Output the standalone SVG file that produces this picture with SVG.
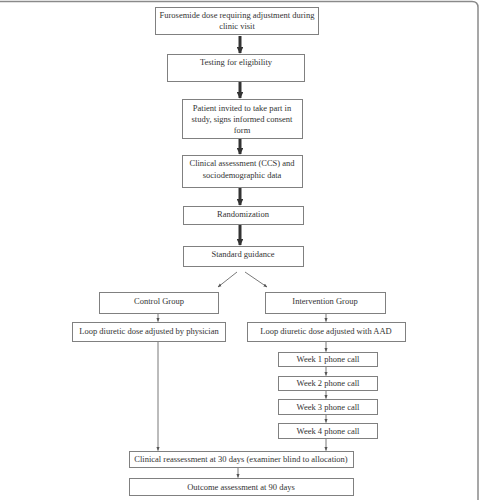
<svg xmlns="http://www.w3.org/2000/svg" width="480" height="500" viewBox="0 0 480 500">
<style>
.b{fill:#fff;stroke:#808080;stroke-width:1}
.t{font-family:"Liberation Serif","Times New Roman",serif;font-size:8.5px;fill:#333;text-anchor:middle}
.thick{stroke:#333;stroke-width:3;fill:none}
.thin{stroke:#555;stroke-width:0.8;fill:none}
</style>
<defs>
<marker id="big" viewBox="0 0 10 10" refX="9" refY="5" markerWidth="2.2" markerHeight="2.2" orient="auto" markerUnits="strokeWidth"><path d="M0,0L10,5L0,10z" fill="#333"/></marker>
<marker id="sm" viewBox="0 0 10 10" refX="9" refY="5" markerWidth="5" markerHeight="5" orient="auto" markerUnits="strokeWidth"><path d="M0,1L10,5L0,9z" fill="#555"/></marker>
</defs>
<rect width="480" height="500" fill="#fff"/>
<path d="M0,1.5H472Q478,1.5 478,7.5V500" fill="none" stroke="#8a8a8a" stroke-width="1.5"/>
<g id="connectors">
<line class="thick" x1="240" y1="36" x2="240" y2="53" marker-end="url(#big)"/>
<line class="thick" x1="240" y1="82" x2="240" y2="98" marker-end="url(#big)"/>
<line class="thick" x1="240" y1="139" x2="240" y2="154" marker-end="url(#big)"/>
<line class="thick" x1="240" y1="188" x2="240" y2="205" marker-end="url(#big)"/>
<line class="thick" x1="240" y1="225" x2="240" y2="245" marker-end="url(#big)"/>
<line class="thin" x1="237" y1="272" x2="218" y2="287" marker-end="url(#sm)"/>
<line class="thin" x1="245" y1="272" x2="267" y2="287" marker-end="url(#sm)"/>
<line class="thin" x1="158" y1="313" x2="158" y2="321.5" marker-end="url(#sm)"/>
<line class="thin" x1="326" y1="313" x2="326" y2="321.5" marker-end="url(#sm)"/>
<line class="thin" x1="326" y1="342" x2="326" y2="351.5" marker-end="url(#sm)"/>
<line class="thin" x1="326" y1="366" x2="326" y2="375.5" marker-end="url(#sm)"/>
<line class="thin" x1="326" y1="390" x2="326" y2="398.5" marker-end="url(#sm)"/>
<line class="thin" x1="326" y1="414" x2="326" y2="422.5" marker-end="url(#sm)"/>
<line class="thin" x1="326" y1="438" x2="326" y2="450.5" marker-end="url(#sm)"/>
<line class="thin" x1="158" y1="342" x2="158" y2="450.5" marker-end="url(#sm)"/>
<line class="thin" x1="238" y1="467" x2="238" y2="477.5" marker-end="url(#sm)"/>
</g>
<g id="n1"><rect class="b" x="155.5" y="7.5" width="163" height="27"/><text class="t" x="237" y="18">Furosemide dose requiring adjustment during</text><text class="t" x="237" y="29">clinic visit</text></g>
<g id="n2"><rect class="b" x="167.5" y="54.5" width="137" height="27"/><text class="t" x="236" y="65">Testing for eligibility</text></g>
<g id="n3"><rect class="b" x="182.5" y="99.5" width="120" height="39"/><text class="t" x="242" y="111">Patient invited to take part in</text><text class="t" x="242" y="122">study, signs informed consent</text><text class="t" x="242" y="133">form</text></g>
<g id="n4"><rect class="b" x="182.5" y="155.5" width="120" height="32"/><text class="t" x="242" y="166">Clinical assessment (CCS) and</text><text class="t" x="242" y="178">sociodemographic data</text></g>
<g id="n5"><rect class="b" x="183.5" y="206.5" width="120" height="18"/><text class="t" x="243" y="217">Randomization</text></g>
<g id="n6"><rect class="b" x="183.5" y="246.5" width="120" height="20"/><text class="t" x="243" y="257">Standard guidance</text></g>
<g id="n7"><rect class="b" x="99.5" y="292.5" width="119" height="21"/><text class="t" x="159" y="304">Control Group</text></g>
<g id="n8"><rect class="b" x="265.5" y="292.5" width="120" height="21"/><text class="t" x="325" y="304">Intervention Group</text></g>
<g id="n9"><rect class="b" x="72.5" y="322.5" width="153" height="19"/><text class="t" x="149" y="334">Loop diuretic dose adjusted by physician</text></g>
<g id="n10"><rect class="b" x="247.5" y="322.5" width="158" height="19"/><text class="t" x="326" y="334">Loop diuretic dose adjusted with AAD</text></g>
<g id="n11"><rect class="b" x="278.5" y="352.5" width="99" height="14"/><text class="t" x="328" y="362">Week 1 phone call</text></g>
<g id="n12"><rect class="b" x="278.5" y="376.5" width="99" height="14"/><text class="t" x="328" y="386">Week 2 phone call</text></g>
<g id="n13"><rect class="b" x="278.5" y="399.5" width="99" height="15"/><text class="t" x="328" y="410">Week 3 phone call</text></g>
<g id="n14"><rect class="b" x="278.5" y="423.5" width="99" height="15"/><text class="t" x="328" y="434">Week 4 phone call</text></g>
<g id="n15"><rect class="b" x="129.5" y="451.5" width="224" height="16"/><text class="t" x="241" y="462">Clinical reassessment at 30 days (examiner blind to allocation)</text></g>
<g id="n16"><rect class="b" x="129.5" y="478.5" width="224" height="17"/><text class="t" x="241" y="490">Outcome assessment at 90 days</text></g>
</svg>
